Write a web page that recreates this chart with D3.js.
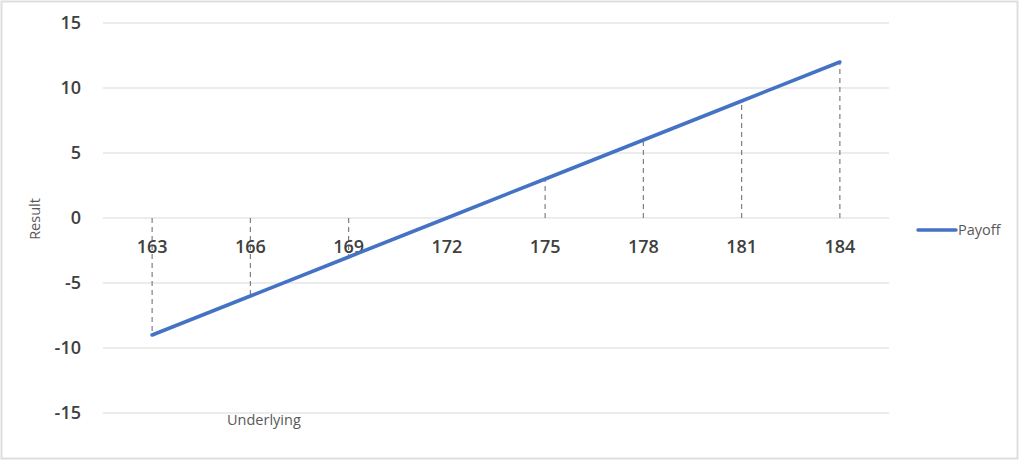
<!DOCTYPE html>
<html>
<head>
<meta charset="utf-8">
<script src="https://cdn.jsdelivr.net/npm/d3@7/dist/d3.min.js"></script>
<style>
  html, body { margin: 0; padding: 0; background: #fff; }
  svg { display: block; }
</style>
</head>
<body>
<svg id="chart" width="1024" height="462"></svg>
<script>
const categories = ["163", "166", "169", "172", "175", "178", "181", "184"];
const payoff = [-9, -6, -3, 0, 3, 6, 9, 12];
const yTicks = [-15, -10, -5, 0, 5, 10, 15];
const seriesName = "Payoff";
const yTitle = "Result";
const xTitle = "Underlying";

const svg = d3.select("#chart");
const fontMain = "'Open Sans', 'Liberation Sans', sans-serif";

// outer frame
svg.append("rect").attr("x", 1.5).attr("y", 1.5).attr("width", 1016).attr("height", 457)
  .attr("fill", "#fff").attr("stroke", "#dedede").attr("stroke-width", 2);

const plot = { left: 103, right: 889, top: 23, bottom: 413 };

const x = d3.scaleBand().domain(categories).range([plot.left, plot.right]);
const y = d3.scaleLinear().domain([-15, 15]).range([plot.bottom, plot.top]);

// gridlines
svg.append("g").selectAll("line").data(yTicks).join("line")
  .attr("x1", plot.left).attr("x2", plot.right)
  .attr("y1", d => y(d)).attr("y2", d => y(d))
  .attr("stroke", "#d9d9d9").attr("stroke-width", 1);

// y axis labels
const yAxis = d3.axisLeft(y).tickValues(yTicks).tickSize(0).tickPadding(0)
  .tickFormat(d => String(d));
const gy = svg.append("g").attr("transform", `translate(81,0)`).call(yAxis);
gy.select(".domain").remove();
gy.selectAll("text").attr("font-family", fontMain).attr("font-size", 18)
  .attr("font-weight", 600).attr("fill", "#404040");

// drop lines
svg.append("g").selectAll("line").data(categories).join("line")
  .attr("x1", d => x(d) + x.bandwidth() / 2).attr("x2", d => x(d) + x.bandwidth() / 2)
  .attr("y1", y(0)).attr("y2", (d, i) => y(payoff[i]))
  .attr("stroke", "#7f7f7f").attr("stroke-width", 1.2).attr("stroke-dasharray", "5,4");

// category labels (axis at y=0)
const xAxis = d3.axisBottom(x).tickSize(0).tickPadding(0);
const gx = svg.append("g").attr("transform", `translate(0,${y(0) + 22})`).call(xAxis);
gx.select(".domain").remove();
gx.selectAll("text").attr("font-family", fontMain).attr("font-size", 18)
  .attr("font-weight", 600).attr("fill", "#404040");

// series line
const line = d3.line().x((d, i) => x(categories[i]) + x.bandwidth() / 2).y(d => y(d));
svg.append("path").datum(payoff).attr("d", line)
  .attr("fill", "none").attr("stroke", "#4472c4").attr("stroke-width", 3.5)
  .attr("stroke-linecap", "round");

// axis titles
svg.append("text").attr("transform", `translate(40,219) rotate(-90)`)
  .attr("text-anchor", "middle").attr("font-family", fontMain).attr("font-size", 14.5)
  .attr("fill", "#595959").text(yTitle);
svg.append("text").attr("x", 227).attr("y", 425)
  .attr("font-family", fontMain).attr("font-size", 14.5)
  .attr("fill", "#595959").text(xTitle);

// legend
svg.append("line").attr("x1", 918).attr("x2", 956).attr("y1", 230).attr("y2", 230)
  .attr("stroke", "#4472c4").attr("stroke-width", 3.5).attr("stroke-linecap", "round");
svg.append("text").attr("x", 958).attr("y", 235)
  .attr("font-family", fontMain).attr("font-size", 14.5)
  .attr("fill", "#595959").text(seriesName);
</script>
</body>
</html>
